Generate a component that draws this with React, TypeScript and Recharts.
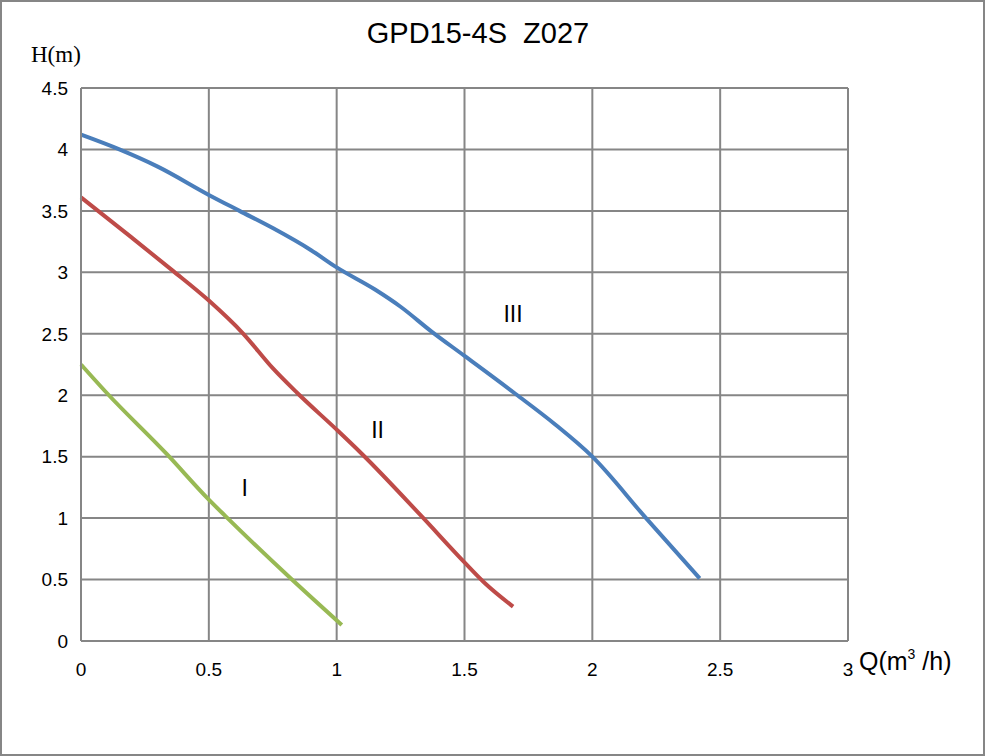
import { LineChart, Line, XAxis, YAxis, CartesianGrid, ReferenceDot } from 'recharts';

const title = 'GPD15-4S\u00a0\u00a0Z027';
const xTicks = [0, 0.5, 1, 1.5, 2, 2.5, 3];
const yTicks = [0, 0.5, 1, 1.5, 2, 2.5, 3, 3.5, 4, 4.5];

// curve III (high speed)
const curve3 = [
  { q: 0, h: 4.12 }, { q: 0.15, h: 4.0 }, { q: 0.3, h: 3.86 }, { q: 0.5, h: 3.63 },
  { q: 0.62, h: 3.5 }, { q: 0.75, h: 3.36 }, { q: 0.9, h: 3.18 }, { q: 1.0, h: 3.04 },
  { q: 1.15, h: 2.86 }, { q: 1.25, h: 2.72 }, { q: 1.37, h: 2.52 }, { q: 1.5, h: 2.32 },
  { q: 1.7, h: 2.01 }, { q: 1.85, h: 1.77 }, { q: 2.0, h: 1.5 }, { q: 2.21, h: 1.0 },
  { q: 2.42, h: 0.51 },
];
// curve II
const curve2 = [
  { q: 0, h: 3.61 }, { q: 0.2, h: 3.28 }, { q: 0.355, h: 3.02 }, { q: 0.5, h: 2.77 },
  { q: 0.635, h: 2.5 }, { q: 0.75, h: 2.22 }, { q: 0.845, h: 2.02 }, { q: 1.0, h: 1.72 },
  { q: 1.1, h: 1.52 }, { q: 1.33, h: 1.02 }, { q: 1.5, h: 0.64 }, { q: 1.58, h: 0.47 },
  { q: 1.69, h: 0.28 },
];
// curve I
const curve1 = [
  { q: 0, h: 2.25 }, { q: 0.1, h: 2.02 }, { q: 0.336, h: 1.52 }, { q: 0.5, h: 1.15 },
  { q: 0.563, h: 1.02 }, { q: 0.825, h: 0.5 }, { q: 1.02, h: 0.13 },
];

const curveLabels = [
  { q: 1.69, h: 2.66, text: 'III' },
  { q: 1.16, h: 1.72, text: 'II' },
  { q: 0.64, h: 1.25, text: 'I' },
];

const gridColor = '#868686';
const tickFont = { fontSize: 19, fill: '#000', fontFamily: '"Liberation Sans", Arial, sans-serif' };

export default function App() {
  return (
    <div style={{ position: 'absolute', left: 0, top: 0, width: 985, height: 756, background: '#fff', border: `2px solid ${gridColor}`, boxSizing: 'border-box' }}>
      <div style={{ position: 'absolute', left: -2, top: -2 }}>
        <LineChart width={985} height={756} margin={{ top: 88, right: 137, bottom: 0, left: 0 }}>
          <CartesianGrid stroke={gridColor} strokeWidth={2} />
          <XAxis
            type="number" dataKey="q" domain={[0, 3]} ticks={xTicks} height={115}
            axisLine={{ stroke: gridColor, strokeWidth: 2 }} tickLine={false}
            tick={tickFont} tickMargin={16} allowDuplicatedCategory={false}
          />
          <YAxis
            type="number" domain={[0, 4.5]} ticks={yTicks} width={81}
            axisLine={{ stroke: gridColor, strokeWidth: 2 }} tickLine={false}
            tick={tickFont} tickMargin={7}
          />
          <Line data={curve1} dataKey="h" type="monotone" stroke="#98B954" strokeWidth={4} dot={false} isAnimationActive={false} />
          <Line data={curve2} dataKey="h" type="monotone" stroke="#BE4B48" strokeWidth={4} dot={false} isAnimationActive={false} />
          <Line data={curve3} dataKey="h" type="monotone" stroke="#4A7EBB" strokeWidth={4} dot={false} isAnimationActive={false} />
          {curveLabels.map(l => (
            <ReferenceDot key={l.text} x={l.q} y={l.h} r={0} ifOverflow="visible"
              label={{ value: l.text, position: 'center', fontSize: 23, fill: '#000', fontFamily: '"Liberation Sans", Arial, sans-serif' }} />
          ))}
          <text x={478} y={43} textAnchor="middle" fontSize={29} fontFamily='"Liberation Sans", Arial, sans-serif' fill="#000">{title}</text>
          <text x={31} y={62} fontSize={23} fontFamily='"Liberation Serif", serif' fill="#000">H(m)</text>
          <text x={859} y={670} fontSize={25} fontFamily='"Liberation Sans", Arial, sans-serif' fill="#000">
            Q(m<tspan fontSize={14} dy={-11}>3</tspan><tspan dy={11}>{'\u00a0/h)'}</tspan>
          </text>
        </LineChart>
      </div>
    </div>
  );
}
